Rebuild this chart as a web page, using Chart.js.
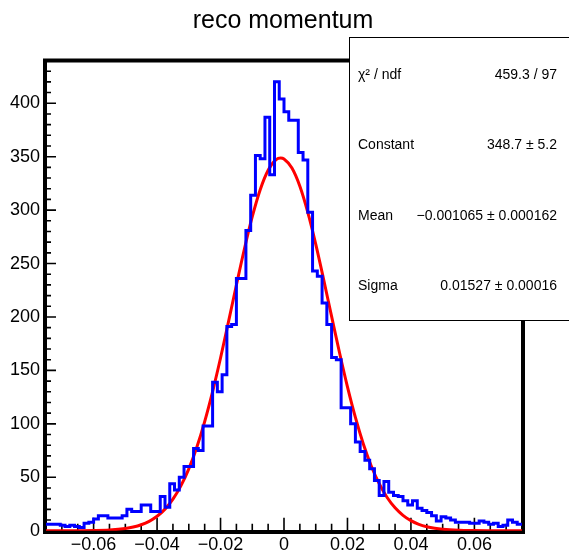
<!DOCTYPE html>
<html>
<head>
<meta charset="utf-8">
<script src="https://cdn.jsdelivr.net/npm/chart.js@4/dist/chart.umd.min.js"></script>
<style>
html,body{margin:0;padding:0;background:#fff;}
#c{display:block;}
</style>
</head>
<body>
<canvas id="c" width="569" height="556"></canvas>
<script>
// ---- data ----
const title = 'reco momentum';
const xMin = -0.075, xMax = 0.075;
const yMin = 0, yMax = 440;
const counts = [
  6,6,6,5,4,5,4,3,7,8,
  11,14,14,12,12,12,14,20,18,18,
  24,24,18,18,32,22,44,38,50,60,
  60,77,75,98,98,139,130,146,191,193,
  236,236,281,314,351,348,387,333,420,404,
  392,384,384,354,347,298,243,238,213,193,
  162,160,115,115,100,83,74,66,58,47,
  33,46,36,33,32,28,24,28,21,19,
  17,14,9,13,12,10,8,8,8,7,
  7,9,8,6,7,4,5,10,8,6
];
const fitX = [-0.075,-0.07,-0.065,-0.06,-0.055,-0.05,-0.0475,-0.045,-0.0425,-0.04,-0.0375,-0.035,-0.0325,-0.03,-0.0275,-0.025,-0.0225,-0.02,-0.0175,-0.015,-0.0125,-0.01,-0.0075,-0.005,-0.0025,-0.001065,0,0.0025,0.005,0.0075,0.01,0.0125,0.015,0.0175,0.02,0.0225,0.025,0.0275,0.03,0.0325,0.035,0.0375,0.04,0.0425,0.045,0.0475,0.05,0.055,0.06,0.065,0.07,0.075];
const fitY = [0,0.01,0.05,0.2,0.68,2.05,3.42,5.56,8.78,13.5,20.2,29.5,41.9,57.9,77.9,102.1,130.2,161.6,195.4,229.9,263.4,293.8,319.1,337.3,347.2,348.7,347.9,339.3,322.3,297.9,268.2,235.0,200.5,166.5,134.6,106.0,81.2,60.6,44.0,31.1,21.4,14.4,9.38,5.96,3.68,2.22,1.30,0.41,0.12,0.03,0.01,0];
const xTickValues = [-0.06,-0.04,-0.02,0,0.02,0.04,0.06];
const xTickLabels = ['\u22120.06','\u22120.04','\u22120.02','0','0.02','0.04','0.06'];
const yTickValues = [0,50,100,150,200,250,300,350,400];
const yTickLabels = ['0','50','100','150','200','250','300','350','400'];
const statLabels = ['\u03c7\u00b2 / ndf','Constant','Mean','Sigma'];
const statValues = ['459.3 / 97','348.7 \u00b1 5.2','\u22120.001065 \u00b1 0.000162','0.01527 \u00b1 0.00016'];

// ---- build datasets ----
const binWidth = (xMax - xMin) / counts.length;
const histPoints = counts.map((v, i) => ({x: xMin + i * binWidth, y: v}));
histPoints.push({x: xMax, y: counts[counts.length - 1]});
const fitPoints = fitX.map((x, i) => ({x: x, y: fitY[i]}));

const FONT = '"Liberation Sans", Arial, Helvetica, sans-serif';

const rootStyle = {
  id: 'rootStyle',
  beforeDatasetsDraw(chart) {
    const ctx = chart.ctx, a = chart.chartArea;
    const xs = chart.scales.x, ys = chart.scales.y;
    ctx.save();
    ctx.strokeStyle = '#000';
    // ticks
    ctx.lineWidth = 1.6;
    ctx.beginPath();
    for (let v = 10; v < yMax; v += 10) {
      const y = ys.getPixelForValue(v);
      const len = (v % 50 === 0) ? 10 : 5;
      ctx.moveTo(a.left, y); ctx.lineTo(a.left + len, y);
    }
    for (let k = -14; k <= 14; k++) {
      const v = k * 0.005;
      const x = xs.getPixelForValue(v);
      const len = (k % 4 === 0) ? 13 : 7;
      ctx.moveTo(x, a.bottom); ctx.lineTo(x, a.bottom - len);
    }
    ctx.stroke();
    // thick frame
    ctx.lineWidth = 4;
    ctx.beginPath();
    ctx.moveTo(a.left - 1, a.top);
    ctx.lineTo(a.right + 1, a.top);
    ctx.moveTo(a.right + 1, a.top - 2);
    ctx.lineTo(a.right + 1, a.bottom + 3);
    ctx.moveTo(a.right + 3, a.bottom + 1.3);
    ctx.lineTo(a.left - 3, a.bottom + 1.3);
    ctx.moveTo(a.left - 1, a.bottom + 3);
    ctx.lineTo(a.left - 1, a.top - 2);
    ctx.stroke();
    ctx.restore();
  },
  afterDraw(chart) {
    const ctx = chart.ctx;
    ctx.save();
    // title
    ctx.fillStyle = '#000';
    ctx.font = '25px ' + FONT;
    ctx.textAlign = 'center';
    ctx.textBaseline = 'alphabetic';
    ctx.fillText(title, 283, 28);
    // stats box
    ctx.fillStyle = '#fff';
    ctx.fillRect(349.5, 37.5, 240, 283);
    ctx.strokeStyle = '#000';
    ctx.lineWidth = 1;
    ctx.strokeRect(349.5, 37.5, 240, 283);
    ctx.fillStyle = '#000';
    ctx.font = '14px ' + FONT;
    const base = [79, 149, 220, 290];
    statLabels.forEach((t, i) => {
      ctx.textAlign = 'left';
      ctx.fillText(t, 358, base[i]);
      ctx.textAlign = 'right';
      ctx.fillText(statValues[i], 557, base[i]);
    });
    ctx.restore();
  }
};

new Chart(document.getElementById('c'), {
  type: 'line',
  data: {
    datasets: [
      {
        data: histPoints,
        borderColor: '#0000ff',
        borderWidth: 3,
        stepped: true,
        pointRadius: 0,
        fill: false,
        borderJoinStyle: 'miter'
      },
      {
        data: fitPoints,
        borderColor: '#ff0000',
        borderWidth: 3,
        pointRadius: 0,
        fill: false,
        cubicInterpolationMode: 'monotone'
      }
    ]
  },
  options: {
    responsive: false,
    animation: false,
    devicePixelRatio: 1,
    layout: {padding: {left: 0, right: 47, top: 60.5, bottom: 0}},
    plugins: {legend: {display: false}, tooltip: {enabled: false}, title: {display: false}},
    scales: {
      x: {
        type: 'linear',
        min: xMin, max: xMax,
        afterBuildTicks(scale) { scale.ticks = xTickValues.map(v => ({value: v})); },
        afterFit(scale) { scale.height = 25.3; },
        grid: {display: false, drawTicks: false},
        border: {display: false},
        ticks: {
          autoSkip: false, maxRotation: 0, minRotation: 0, padding: 4,
          color: '#000', font: {family: FONT, size: 18},
          callback: (value, index) => xTickLabels[index]
        }
      },
      y: {
        type: 'linear',
        min: yMin, max: yMax,
        afterBuildTicks(scale) { scale.ticks = yTickValues.map(v => ({value: v})); },
        afterFit(scale) { scale.width = 46; },
        grid: {display: false, drawTicks: false},
        border: {display: false},
        ticks: {
          autoSkip: false, padding: 6,
          color: '#000', font: {family: FONT, size: 18},
          callback: (value, index) => yTickLabels[index]
        }
      }
    }
  },
  plugins: [rootStyle]
});
</script>
</body>
</html>
